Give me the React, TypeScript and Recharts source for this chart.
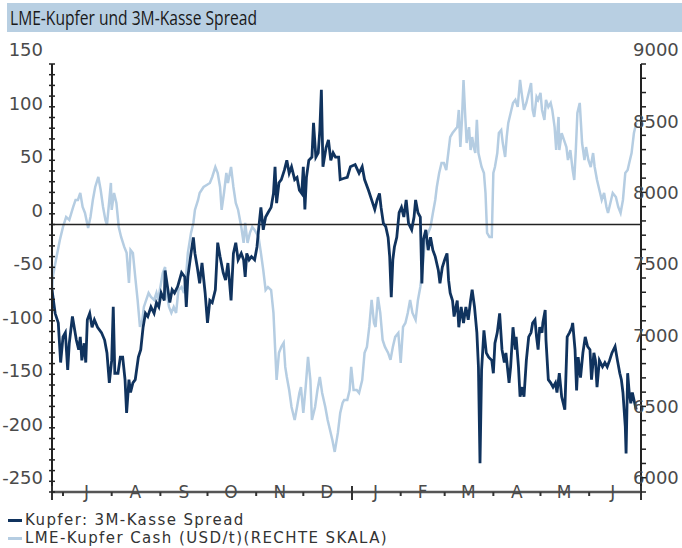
import React from 'react'
import { LineChart, Line, XAxis, YAxis, ReferenceLine } from 'recharts'

// day 0 = 24 June; left axis: spread (USD/t), right axis: cash price (USD/t)
const spread: [number, number][] = [
  [0, -61], [2, -83], [4, -92], [5.5, -129], [7, -105], [8.5, -101], [10, -136], [11, -111],
  [13, -86], [15.5, -108], [17, -117], [18, -105], [19, -127], [20.5, -111], [21.5, -129],
  [22.5, -89], [24, -83], [25.5, -96], [27, -89], [29, -96], [31.5, -101], [33.5, -108],
  [35, -120], [36.5, -148], [38, -127], [39, -77], [40, -139], [42, -139], [43.5, -124],
  [45, -124], [46.5, -145], [47.5, -176], [49, -145], [50, -157], [51.5, -148], [53, -145],
  [55, -124], [56.5, -117], [58, -96], [59.5, -83], [61, -86], [63, -77], [65, -83],
  [66.5, -73], [68, -77], [69.5, -64], [71.5, -71], [72, -43], [73.5, -58], [75, -73],
  [76.5, -61], [78, -64], [80, -58], [82.5, -45], [84.5, -49], [85.5, -77], [86.5, -49],
  [88.5, -27], [90, -12], [91, -27], [92.5, -40], [94, -55], [95.5, -36], [97.5, -64],
  [99, -92], [100.5, -71], [102, -73], [104, -61], [105.5, -17], [107, -30], [109, -45],
  [110.5, -52], [112, -36], [114, -71], [115.5, -27], [117, -17], [118.5, -33], [120.5, -27],
  [122, -33], [123, -49], [124, -27], [125.5, -33], [127, -30], [129, -33], [130.5, -21],
  [131.5, -5], [133, 16], [134.5, -5], [136, 7], [137.5, 11], [139.5, 16], [141, 29],
  [142, 54], [143, 20], [144.5, 39], [146, 42], [148, 51], [149.5, 60], [151, 48],
  [152.5, 54], [154.5, 42], [156, 44], [157.5, 32], [159, 29], [160, 54], [161, 14],
  [162, 44], [163.5, 60], [165.5, 63], [166.5, 95], [168, 63], [169.5, 67], [170.5, 88],
  [171.5, 126], [172.5, 54], [174.5, 72], [176, 79], [177.5, 60], [179, 67], [180.5, 63],
  [182.5, 63], [183.5, 42], [185.5, 43], [188, 44], [190, 54], [193, 56], [195.5, 48],
  [197.5, 54], [199, 42], [201.5, 32], [203.5, 23], [205.5, 14], [207, 23], [208.5, 29],
  [209.5, 16], [211, 1], [212.5, -2], [214, -12], [215, -30], [216, -68], [217, -33],
  [218, -21], [219.5, -12], [221, 11], [222.5, 16], [224, 7], [225.5, 23], [227, 1],
  [229, -5], [230.5, 7], [231.5, 23], [233, 11], [234.5, 7], [235.5, -55], [236.5, -14],
  [238, -5], [239.5, -24], [241, -12], [242.5, -24], [244, -30], [246, -43], [247, -55],
  [248.5, -40], [250, -33], [251.5, -27], [252.5, -52], [253.5, -64], [255, -71], [256, -86],
  [258, -71], [259, -96], [260.5, -77], [262, -92], [263.5, -77], [265, -89], [266.5, -71],
  [267.5, -61], [269, -77], [270.5, -101], [271.5, -133], [272.5, -223], [273.5, -136],
  [275, -99], [276.5, -120], [278, -124], [280, -127], [281, -139], [282, -111],
  [283.5, -101], [285, -83], [286.5, -117], [288, -129], [289, -120], [291, -148],
  [292, -133], [293.5, -96], [295, -117], [295.5, -105], [297, -133], [298, -161],
  [299.5, -152], [300.5, -161], [302, -127], [303.5, -105], [305, -101], [306, -92],
  [307.5, -89], [308.5, -105], [309.5, -117], [310.5, -96], [312, -101], [312.5, -92],
  [314, -80], [314.5, -108], [316, -145], [317.5, -148], [319, -152], [320.5, -148],
  [321.5, -157], [323, -139], [324.5, -161], [325.5, -167], [326.5, -173], [328, -105],
  [329.5, -101], [331, -96], [331.5, -92], [333, -117], [334, -155], [335, -124],
  [336.5, -143], [338, -120], [339.5, -105], [341, -114], [342.5, -117], [343.5, -145],
  [345, -120], [346, -127], [347, -152], [348.5, -127], [350.5, -133], [352, -129],
  [353.5, -133], [355, -127], [356.5, -120], [358.5, -114], [360, -127], [361.5, -139],
  [362.5, -145], [363.5, -157], [365, -189], [365.5, -214], [366.5, -139], [367.5, -157],
  [368.5, -167], [369.5, -157], [371, -167], [372, -173],
]

const cash: [number, number][] = [
  [0, 7346], [0.5, 7507], [2.5, 7626], [5, 7767], [7, 7858], [9, 7928], [11, 7907],
  [13.5, 7998], [15, 8047], [16.5, 8047], [18, 8096], [19.5, 7998], [21, 7956], [23, 7851],
  [24.5, 7928], [26, 8047], [27.5, 8138], [29.5, 8208], [31, 8117], [32.5, 7998], [34, 7907],
  [35, 7872], [36.5, 8047], [37.5, 8166], [38, 7977], [39.5, 8096], [41, 8026], [42.5, 7858],
  [44, 7788], [46, 7718], [47.5, 7676], [49, 7465], [50, 7697], [51.5, 7676], [53, 7507],
  [54.5, 7346], [56, 7157], [57.5, 7206], [58.5, 7297], [60, 7346], [61.5, 7395], [63, 7367],
  [65, 7346], [66.5, 7395], [67.5, 7346], [69, 7437], [70.5, 7535], [72, 7577], [73, 7395],
  [74.5, 7297], [76, 7255], [77.5, 7297], [79, 7255], [80.5, 7416], [82.5, 7437], [84, 7395],
  [85.5, 7535], [86.5, 7676], [88.5, 7816], [90, 7886], [91, 7977], [93, 8047], [94, 8096],
  [96.5, 8138], [98.5, 8152], [100.5, 8166], [102, 8208], [104, 8278], [105.5, 8236],
  [107, 8138], [108, 7977], [109.5, 8096], [111, 8236], [112, 8166], [114, 8278],
  [115.5, 8138], [117, 8026], [118.5, 7977], [120.5, 7858], [122, 7746], [123, 7886],
  [124.5, 7746], [126, 7816], [127.5, 7858], [129, 7837], [131.5, 7788], [133, 7676],
  [134.5, 7556], [136, 7416], [137.5, 7437], [139.5, 7416], [141, 7255], [142, 7017],
  [143, 6785], [144.5, 6975], [146, 7017], [147.5, 7045], [148.5, 6877], [149.5, 6806],
  [151, 6715], [152.5, 6596], [154.5, 6505], [156, 6596], [157.5, 6694], [158.5, 6736],
  [160, 6554], [161.5, 6736], [163, 6947], [164.5, 6785], [165.5, 6505], [167.5, 6596],
  [169, 6715], [170.5, 6806], [172, 6694], [174, 6596], [175.5, 6505], [177, 6435],
  [178.5, 6365], [180, 6281], [182, 6414], [183.5, 6554], [185, 6624], [186, 6645],
  [188, 6645], [189.5, 6715], [190.5, 6877], [192, 6715], [194, 6715], [195.5, 6694],
  [197.5, 6785], [199, 6975], [200.5, 7017], [202, 7157], [203.5, 7346], [205, 7185],
  [206, 7157], [207.5, 7367], [209, 7255], [210.5, 7066], [212, 7017], [214, 6975],
  [215.5, 6926], [217, 7017], [218.5, 7087], [220.5, 7115], [222, 6905], [223.5, 7157],
  [225, 7185], [226.5, 7255], [228, 7346], [229.5, 7255], [231.5, 7206], [233, 7346],
  [234.5, 7437], [236, 7577], [237.5, 7767], [239.5, 7816], [241, 7858], [242.5, 7956],
  [244, 8047], [245, 8138], [246.5, 8236], [248, 8306], [249.5, 8306], [251, 8257],
  [252, 8348], [253.5, 8488], [255, 8516], [256.5, 8537], [258, 8558], [259, 8678],
  [260, 8418], [261, 8608], [262, 8888], [263, 8657], [264, 8446], [265.5, 8558],
  [266.5, 8397], [267.5, 8488], [268.5, 8418], [269.5, 8376], [270.5, 8608], [271.5, 8376],
  [273.5, 8278], [275, 8236], [276, 8096], [277, 7816], [278.5, 7788], [280, 7788],
  [281, 8236], [282, 8278], [283.5, 8376], [284.5, 8516], [286, 8537], [287, 8446],
  [288.5, 8348], [289.5, 8488], [290.5, 8587], [292, 8657], [293.5, 8727], [295, 8748],
  [296.5, 8699], [298, 8888], [299, 8797], [300.5, 8678], [302, 8727], [303.5, 8797],
  [305, 8867], [306, 8678], [307, 8629], [308.5, 8769], [309.5, 8748], [311, 8797],
  [312, 8678], [313.5, 8608], [314.5, 8748], [316, 8699], [317.5, 8727], [318.5, 8678],
  [320, 8558], [321, 8397], [322.5, 8629], [323, 8397], [324.5, 8516], [326, 8467],
  [327.5, 8418], [328.5, 8327], [330, 8397], [331.5, 8257], [332.5, 8187], [333.5, 8397],
  [334.5, 8657], [336, 8727], [337.5, 8446], [339, 8327], [340, 8418], [341.5, 8327],
  [343, 8278], [344.5, 8376], [345.5, 8278], [347, 8187], [348.5, 8117], [350, 8047],
  [351.5, 8096], [353, 7998], [354, 7956], [355.5, 8026], [357, 8096], [359, 8068],
  [360.5, 7998], [362, 7956], [363.5, 8047], [365, 8236], [366.5, 8257], [367.5, 8306],
  [369, 8376], [370.5, 8516], [372, 8587],
]

const monthStarts = [7, 38, 69, 99, 130, 160, 191, 222, 250, 281, 311, 342]
const monthMids = [22, 53, 84, 114, 145, 175, 206, 236, 265, 296, 326, 357]
const monthLabels = ['J', 'A', 'S', 'O', 'N', 'D', 'J', 'F', 'M', 'A', 'M', 'J']
const bigTicks = [0, 191, 375]

const leftTicks = [
  -250, -240, -230, -220, -210, -200, -190, -180, -170, -160, -150, -140, -130, -120,
  -110, -100, -90, -80, -70, -60, -50, -40, -30, -20, -10, 0, 10, 20, 30, 40, 50, 60,
  70, 80, 90, 100, 110, 120, 130, 140, 150,
]
const rightTicks = [
  6000, 6100, 6200, 6300, 6400, 6500, 6600, 6700, 6800, 6900, 7000, 7100, 7200, 7300,
  7400, 7500, 7600, 7700, 7800, 7900, 8000, 8100, 8200, 8300, 8400, 8500, 8600, 8700,
  8800, 8900, 9000,
]

const FONT = '"DejaVu Sans", sans-serif'
const LABEL = '#4a4a4a'
const DARK = '#10335e'
const LIGHT = '#b5cde2'

const spreadData = spread.map(([day, value]) => ({ day, value }))
const cashData = cash.map(([day, value]) => ({ day, value }))

function LeftTick(props: any) {
  const { x, y, payload } = props
  const major = payload.value % 50 === 0
  return (
    <g>
      <line x1={x - 3} x2={x + 3} y1={y} y2={y} stroke="#222" strokeWidth={1.5} />
      {major && (
        <text x={x - 9} y={y - 14} dy="0.36em" textAnchor="end" fill={LABEL} fontSize={18} fontFamily={FONT}>
          {payload.value}
        </text>
      )}
    </g>
  )
}

function RightTick(props: any) {
  const { x, y, payload } = props
  const major = payload.value % 500 === 0
  return (
    <g>
      <line x1={x} x2={x + 5} y1={y} y2={y} stroke="#222" strokeWidth={1.5} />
      {major && (
        <text x={x - 8} y={y - 14} dy="0.36em" textAnchor="start" fill={LABEL} fontSize={18} fontFamily={FONT}>
          {payload.value}
        </text>
      )}
    </g>
  )
}

function MonthTick(props: any) {
  const { x, y, payload } = props
  const i = monthMids.indexOf(payload.value)
  if (i >= 0) {
    return (
      <text x={x} y={y} dy={6} textAnchor="middle" fill={LABEL} fontSize={17} fontFamily={FONT}>
        {monthLabels[i]}
      </text>
    )
  }
  const big = bigTicks.includes(payload.value)
  return (
    <line x1={x} x2={x} y1={big ? y - 6 : y} y2={big ? y + 8 : y + 4} stroke="#333" strokeWidth={2} />
  )
}

export default function App() {
  return (
    <div style={{ position: 'relative', width: 682, height: 548, background: '#fff', overflow: 'hidden' }}>
      <style>{'body{margin:0}'}</style>
      <div
        style={{
          position: 'absolute',
          left: 7,
          top: 3,
          width: 675,
          height: 29,
          background: '#b8cfe2',
        }}
      >
        <span
          style={{
            position: 'absolute',
            left: 3,
            top: 0,
            whiteSpace: 'nowrap',
            color: '#1a1a1a',
            fontFamily: '"Open Sans", sans-serif',
            fontSize: 20,
            lineHeight: '29px',
            transform: 'scaleX(0.78)',
            transformOrigin: 'left center',
          }}
        >
          LME-Kupfer und 3M-Kasse Spread
        </span>
      </div>
      <div style={{ position: 'absolute', left: 0, top: 0 }}>
        <LineChart width={682} height={548} margin={{ top: 64, right: 0, bottom: 36, left: 0 }}>
          <XAxis
            dataKey="day"
            type="number"
            domain={[0, 375]}
            ticks={[...bigTicks, ...monthStarts, ...monthMids]}
            interval={0}
            height={20}
            tickLine={false}
            tickSize={0}
            tickMargin={0}
            tick={<MonthTick />}
            axisLine={{ stroke: '#555', strokeWidth: 2.5 }}
            allowDataOverflow
          />
          <YAxis
            yAxisId="left"
            orientation="left"
            width={52}
            domain={[-250, 150]}
            ticks={leftTicks}
            interval={0}
            tickLine={false}
            tickSize={0}
            tickMargin={0}
            tick={<LeftTick />}
            axisLine={{ stroke: '#222', strokeWidth: 2 }}
            allowDataOverflow
          />
          <YAxis
            yAxisId="right"
            orientation="right"
            width={41}
            domain={[6000, 9000]}
            ticks={rightTicks}
            interval={0}
            tickLine={false}
            tickSize={0}
            tickMargin={0}
            tick={<RightTick />}
            axisLine={{ stroke: '#222', strokeWidth: 2 }}
            allowDataOverflow
          />
          <Line
            yAxisId="right"
            data={cashData}
            dataKey="value"
            type="linear"
            stroke={LIGHT}
            strokeWidth={2.5}
            dot={false}
            isAnimationActive={false}
          />
          <ReferenceLine yAxisId="left" y={0} stroke="#222" strokeWidth={1.5} />
          <Line
            yAxisId="left"
            data={spreadData}
            dataKey="value"
            type="linear"
            stroke={DARK}
            strokeWidth={2.8}
            dot={false}
            isAnimationActive={false}
          />
        </LineChart>
      </div>
      <div
        style={{
          position: 'absolute',
          left: 8,
          top: 511,
          fontFamily: FONT,
          fontSize: 15,
          letterSpacing: 1.4,
          lineHeight: '18px',
          color: '#333',
        }}
      >
        <div style={{ display: 'flex', alignItems: 'center', height: 18 }}>
          <span style={{ width: 14, height: 3, background: DARK, marginRight: 3 }} />
          Kupfer: 3M-Kasse Spread
        </div>
        <div style={{ display: 'flex', alignItems: 'center', height: 18 }}>
          <span style={{ width: 14, height: 3, background: LIGHT, marginRight: 3 }} />
          LME-Kupfer Cash (USD/t)(RECHTE SKALA)
        </div>
      </div>
    </div>
  )
}
